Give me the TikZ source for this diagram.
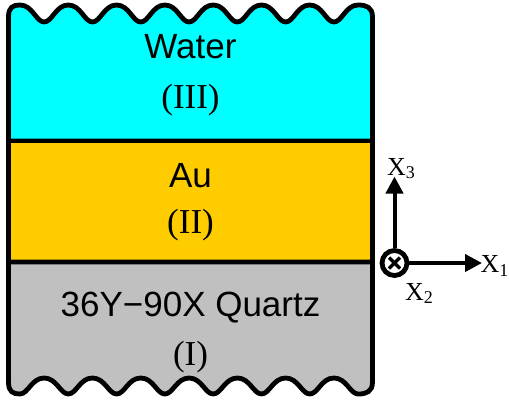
\documentclass[tikz,border=0pt]{standalone}
\usepackage{fontspec}
\setmainfont{Liberation Serif}
\setsansfont{Liberation Sans}
\usepackage{xcolor}
\usetikzlibrary{arrows.meta}
\definecolor{water}{HTML}{00FFFF}
\definecolor{gold}{HTML}{FFCC00}
\definecolor{quartz}{HTML}{C0C0C0}
\newcommand{\axlabel}[1]{X\raisebox{-3.5pt}{\fontsize{18}{18}\selectfont #1}}

\begin{document}
\begin{tikzpicture}[x=1pt, y=-1pt,
    layer/.style={line width=4.8pt, line join=round},
    layertext/.style={anchor=base, inner sep=0pt, font=\sffamily\fontsize{35}{42}\selectfont},
    layerno/.style={anchor=base, inner sep=0pt, font=\rmfamily\fontsize{35}{42}\selectfont},
    axis/.style={line width=4pt, -{Triangle[length=17pt, width=17pt]}},
    axlab/.style={anchor=base west, inner sep=0pt, font=\rmfamily\fontsize{26}{26}\selectfont}]
    \useasboundingbox (0,0) rectangle (509,405);
    % Water (III), wavy top
    \filldraw[layer, fill=water] (8.5,141) -- (8.5,17) .. controls (8.5,7) and (13,5) .. (20,5)
        \foreach \k in {0,...,6} {
            .. controls ({20+48.3*\k+12.5},5) and ({44.15+48.3*\k-8},22) .. ({44.15+48.3*\k},22)
            .. controls ({44.15+48.3*\k+8},22) and ({68.3+48.3*\k-12.5},5) .. ({68.3+48.3*\k},5)
        }
        .. controls (366,5) and (372.5,7) .. (372.5,17) -- (372.5,141) -- cycle;
    % Au (II)
    \filldraw[layer, fill=gold] (8.5,141) rectangle (372.5,262);
    % Quartz (I), wavy bottom
    \filldraw[layer, fill=quartz] (8.5,262) -- (372.5,262) -- (372.5,382)
        .. controls (372.5,392) and (366,394) .. (358.1,394)
        \foreach \k in {6,...,0} {
            .. controls ({68.3+48.3*\k-8},394) and ({44.15+48.3*\k+12.5},378) .. ({44.15+48.3*\k},378)
            .. controls ({44.15+48.3*\k-12.5},378) and ({20+48.3*\k+8},394) .. ({20+48.3*\k},394)
        }
        .. controls (13,394) and (8.5,392) .. (8.5,382) -- cycle;
    % Layer names
    \node[layertext] (water) at (190.5,58) {Water};
    \node[layerno] (waterno) at (190.5,108) {(III)};
    \node[layertext] (au) at (190.5,187) {Au};
    \node[layerno] (auno) at (190.5,233) {(II)};
    \node[layertext] (qz) at (190.5,316) {36Y−90X Quartz};
    \node[layerno] (qzno) at (190.5,365) {(I)};
    % Axes
    \node[circle, draw, line width=4.8pt, minimum size=25pt, inner sep=0pt, fill=white] (o) at (394.5,263) {};
    \draw[line width=3.5pt] (o.center) ++(-5.5,-5.5) -- ++(11,11) (o.center) ++(-5.5,5.5) -- ++(11,-11);
    \coordinate (x1tip) at (482,263);
    \coordinate (x3tip) at (394.5,176.5);
    \draw[axis] (o) -- (x1tip);
    \draw[axis] (o) -- (x3tip);
    % Axis labels
    \node[axlab] (x1) at (480.5,272.5) {\axlabel{1}};
    \node[axlab] (x3) at (387,175) {\axlabel{3}};
    \node[axlab] (x2) at (405,300) {\axlabel{2}};
\end{tikzpicture}
\end{document}
